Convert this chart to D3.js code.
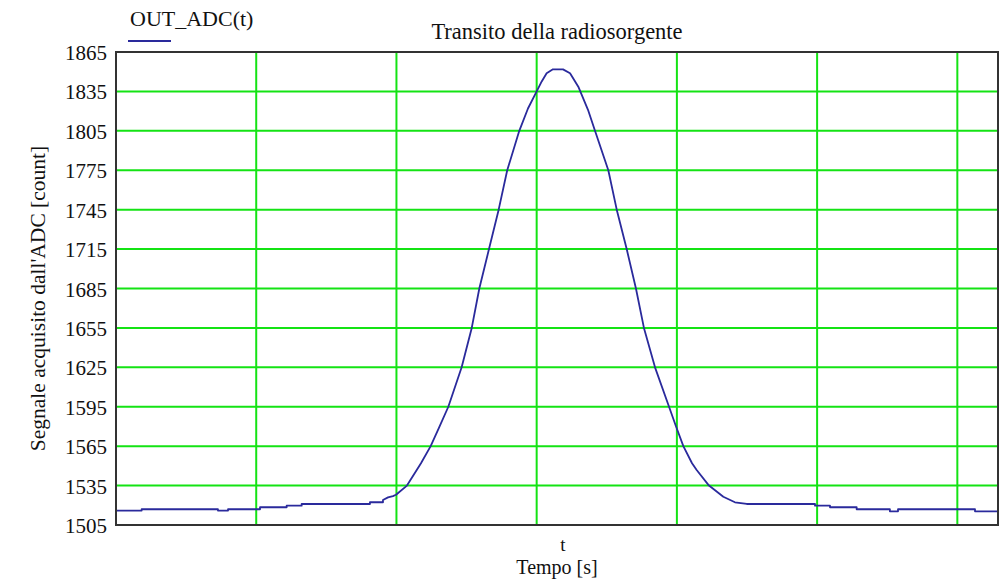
<!DOCTYPE html>
<html>
<head>
<meta charset="utf-8">
<script src="https://cdn.jsdelivr.net/npm/d3@7"></script>
<style>
  html, body { margin: 0; padding: 0; background: #ffffff; }
  svg { display: block; }
  text { font-family: "Liberation Serif", "Times New Roman", Times, serif; fill: #111; }
</style>
</head>
<body>
<svg id="chart" width="1000" height="580"></svg>
<script>
// ---- data ----
const seriesName = "OUT_ADC(t)";
const chartTitle = "Transito della radiosorgente";
const xLabelVar = "t";
const xLabel = "Tempo [s]";
const yLabel = "Segnale acquisito dall'ADC [count]";

const yTicks = [1505, 1535, 1565, 1595, 1625, 1655, 1685, 1715, 1745, 1775, 1805, 1835, 1865];
const xTicks = [100, 200, 300, 400, 500, 600];
const xDomain = [0, 629];

const time = [0, 18.3, 18.3, 72.7, 72.7, 79.9, 79.9, 102.7, 102.7, 121.7,
  121.7, 132.4, 132.4, 181.1, 181.1, 190.4, 190.4, 194.0, 197.5, 199.7,
  207.5, 217.5, 224.4, 230.3, 237.0, 246.5, 253.7, 259.1, 266.0, 272.9,
  279.0, 287.6, 293.8, 300.0, 303.6, 307.1, 311.6, 318.8, 323.8, 329.7,
  336.6, 341.6, 351.1, 357.1, 364.2, 370.8, 376.5, 384.4, 394.4, 399.4,
  404.6, 410.8, 414.1, 422.9, 433.1, 441.4, 449.8, 498.5, 498.5, 509.2,
  509.2, 528.2, 528.2, 551.9, 551.9, 557.7, 557.7, 612.6, 612.6, 629];
const adc = [1516, 1516, 1517, 1517, 1516, 1516, 1517, 1517, 1518.5, 1518.5,
  1519.7, 1519.7, 1521, 1521, 1522.3, 1522.3, 1524, 1526, 1527, 1528,
  1535, 1552, 1565, 1579, 1595, 1625, 1655, 1685, 1715, 1745,
  1775, 1805, 1822, 1835, 1842.6, 1848.8, 1851.8, 1851.8, 1848.8, 1838.6,
  1821, 1805, 1775, 1745, 1715, 1685, 1655, 1625, 1595, 1580,
  1565, 1552, 1546.9, 1535, 1526.5, 1522.3, 1521, 1521, 1519.7, 1519.7,
  1518.5, 1518.5, 1517, 1517, 1515.4, 1515.4, 1517, 1517, 1515.4, 1515.4];

// ---- layout ----
const W = 1000, H = 580;
const margin = { left: 116, right: 2, top: 52, bottom: 55 };
const plotW = W - margin.left - margin.right;
const plotH = H - margin.top - margin.bottom;
const serif = "'Liberation Serif', 'Times New Roman', Times, serif";

const svg = d3.select("#chart");
const g = svg.append("g").attr("transform", `translate(${margin.left},${margin.top})`);

const x = d3.scaleLinear().domain(xDomain).range([0, plotW]);
const y = d3.scaleLinear().domain([yTicks[0], yTicks[yTicks.length - 1]]).range([plotH, 0]);

const gridColor = "#14e314";
// horizontal gridlines
g.append("g").selectAll("line").data(yTicks.slice(1, -1)).join("line")
  .attr("x1", 0).attr("x2", plotW)
  .attr("y1", d => y(d)).attr("y2", d => y(d))
  .attr("stroke", gridColor).attr("stroke-width", 2);
// vertical gridlines
g.append("g").selectAll("line").data(xTicks).join("line")
  .attr("x1", d => x(d)).attr("x2", d => x(d))
  .attr("y1", 0).attr("y2", plotH)
  .attr("stroke", gridColor).attr("stroke-width", 2);

// y axis tick labels
const yAxis = d3.axisLeft(y).tickValues(yTicks).tickSize(0).tickPadding(9).tickFormat(d3.format("d"));
const ya = g.append("g").call(yAxis).attr("font-family", null);
ya.select(".domain").remove();
ya.selectAll("text")
  .style("font-family", serif)
  .attr("font-size", 21).attr("fill", "#111").attr("dy", "0.36em");

// data line
const pts = time.map((t, i) => [t, adc[i]]);
g.append("path")
  .datum(pts)
  .attr("fill", "none")
  .attr("stroke", "#2a2a9c")
  .attr("stroke-width", 1.8)
  .attr("stroke-linejoin", "round")
  .attr("d", d3.line().x(d => x(d[0])).y(d => y(d[1])));

// plot border
g.append("rect")
  .attr("x", 0).attr("y", 0).attr("width", plotW).attr("height", plotH)
  .attr("fill", "none").attr("stroke", "#333").attr("stroke-width", 2);

// title
svg.append("text")
  .attr("x", margin.left + plotW / 2).attr("y", 39)
  .attr("text-anchor", "middle").attr("font-size", 22.5)
  .style("font-family", serif)
  .text(chartTitle);

// legend
svg.append("text")
  .attr("x", 130).attr("y", 26)
  .attr("font-size", 22)
  .style("font-family", serif)
  .text(seriesName);
svg.append("line")
  .attr("x1", 128).attr("x2", 171).attr("y1", 41).attr("y2", 41)
  .attr("stroke", "#2a2a9c").attr("stroke-width", 2);

// x labels
svg.append("text")
  .attr("x", margin.left + plotW / 2 + 6).attr("y", 551)
  .attr("text-anchor", "middle").attr("font-size", 19)
  .style("font-family", serif)
  .text(xLabelVar);
svg.append("text")
  .attr("x", margin.left + plotW / 2).attr("y", 574)
  .attr("text-anchor", "middle").attr("font-size", 20)
  .style("font-family", serif)
  .text(xLabel);

// y label
svg.append("text")
  .attr("transform", `translate(45,${margin.top + plotH / 2 + 10}) rotate(-90)`)
  .attr("text-anchor", "middle").attr("font-size", 21.5)
  .style("font-family", serif)
  .text(yLabel);
</script>
</body>
</html>
